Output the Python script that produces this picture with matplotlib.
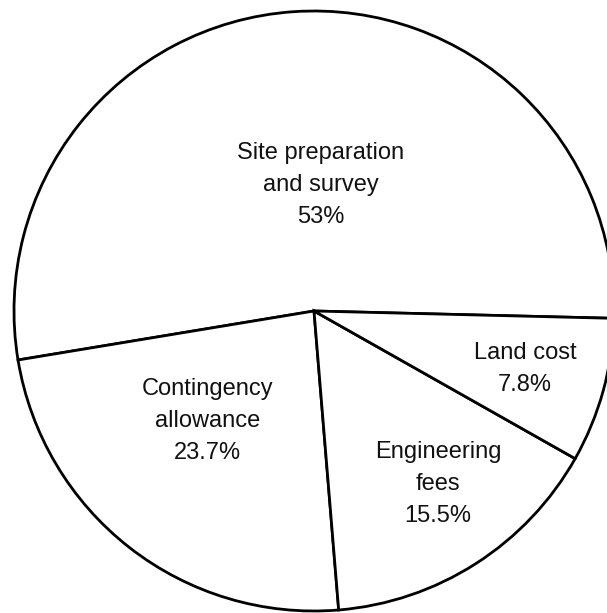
import numpy as np
import matplotlib
matplotlib.use("Agg")
import matplotlib.pyplot as plt

# データ
labels = ["Site preparation\nand survey", "Contingency\nallowance", "Engineering\nfees", "Land cost"]
shares = [53.0, 23.7, 15.5, 7.8]

# ラベル位置 (半径, 角度のずれ)
label_r = [0.42, 0.51, 0.71, 0.73]
label_dtheta = [-7, -6, 3, 0]

plt.rcParams['font.family'] = ['Liberation Sans', 'DejaVu Sans']

fig = plt.figure(figsize=(6.07, 6.13), dpi=100)
ax = fig.add_axes([0, 0, 1, 1])

wedges, _ = ax.pie(shares, startangle=-1.4, counterclock=True, radius=1.0,
                   colors=["white"] * len(shares),
                   wedgeprops=dict(edgecolor="black", linewidth=2.0))

for w, lab, s, r, dt in zip(wedges, labels, shares, label_r, label_dtheta):
    th = np.deg2rad((w.theta1 + w.theta2) / 2 + dt)
    txt = lab + "\n" + ("%g%%" % s)
    ax.text(r * np.cos(th), r * np.sin(th), txt, ha="center", va="center",
            fontsize=17, linespacing=1.6, color="#111111")

# 円の中心 (314, 311)px, 半径 300px
ax.set_xlim(-314 / 300, 293 / 300)
ax.set_ylim(-302 / 300, 311 / 300)
ax.set_aspect("equal")
ax.axis("off")

fig.savefig("out.png", dpi=100)
